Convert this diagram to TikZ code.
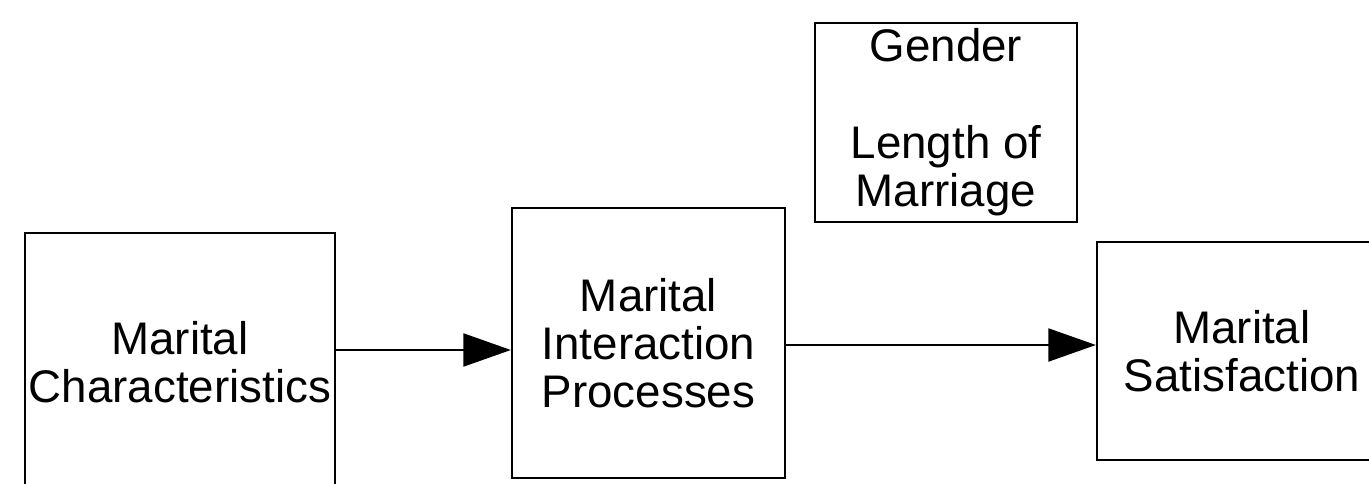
\documentclass[tikz,border=0pt]{standalone}
\usepackage{fontspec}
\setmainfont{Liberation Sans}
\usetikzlibrary{arrows.meta}

\begin{document}
\begin{tikzpicture}[
		box/.style={draw, line width=1.3pt, inner sep=0pt, align=center,
			font=\fontsize{26}{27.5}\selectfont},
		arr/.style={line width=1.2pt, -{Triangle[length=0.95cm, width=0.66cm]}}
	]
				\useasboundingbox (0,0) rectangle (27.38,-9.68);
				
				\node[box, minimum width=6.2cm, minimum height=5.16cm] (mc) at (3.6,-7.24) {Marital\\Characteristics};
				\node[box, minimum width=5.46cm, minimum height=5.4cm] (mip) at (12.97,-6.86) {Marital\\Interaction\\Processes};
				\node[box, minimum width=5.24cm, minimum height=3.98cm] (gl) at (18.92,-2.45) {Gender\\[27.5pt]Length of\\Marriage};
				\node[box, minimum width=5.8cm, minimum height=4.36cm] (ms) at (24.84,-7.02) {Marital\\Satisfaction};
				
				\draw[arr] ([yshift=-0.14cm]mip.west -| mc.east) -- ([yshift=-0.14cm]mip.west);
				\draw[arr] ([yshift=-0.04cm]mip.east) -- ([yshift=-0.04cm]mip.east -| ms.west);
			\end{tikzpicture}
\end{document}
